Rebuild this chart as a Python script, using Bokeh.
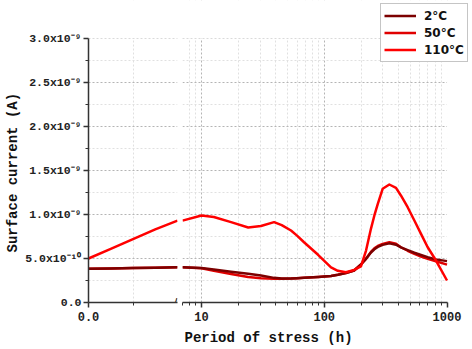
from bokeh.plotting import figure
from bokeh.layouts import row
from bokeh.models import (Range1d, FixedTicker, CustomJSTickFormatter, PrintfTickFormatter,
                          Legend, LegendItem, Label, Title, BoxAnnotation)
from bokeh.embed import file_html
from bokeh.resources import INLINE

# Surface current (in units of 1e-9 A) versus period of stress (hours)
SERIES = ["2°C", "50°C", "110°C"]
COLORS = ["#7c0000", "#e00000", "#ff0000"]

# Early stage, linear time axis
HOURS_EARLY = [0, 1.5, 3, 4.5, 6]
EARLY_2C = [0.383, 0.387, 0.392, 0.396, 0.400]
EARLY_50C = [0.383, 0.387, 0.392, 0.396, 0.400]
EARLY_110C = [0.50, 0.61, 0.72, 0.83, 0.93]

# Later stage, logarithmic time axis
HOURS_LATE = [7, 10, 12.6, 17.4, 24, 30.5, 39, 45, 53.6, 60, 68.4, 89, 113.5, 129, 150, 175,
              199, 219, 240, 256, 273, 299, 339, 384, 421, 478, 542, 614, 696, 813, 1000]
LATE_2C = [0.400, 0.393, 0.375, 0.350, 0.326, 0.307, 0.280, 0.274, 0.272, 0.275, 0.280,
           0.290, 0.302, 0.315, 0.335, 0.364, 0.432, 0.496, 0.568, 0.605, 0.632, 0.655,
           0.672, 0.657, 0.627, 0.595, 0.565, 0.540, 0.515, 0.490, 0.470]
LATE_50C = [0.400, 0.390, 0.360, 0.325, 0.290, 0.276, 0.270, 0.270, 0.272, 0.275, 0.280,
            0.290, 0.302, 0.315, 0.335, 0.364, 0.432, 0.498, 0.575, 0.615, 0.642, 0.665,
            0.685, 0.667, 0.628, 0.588, 0.552, 0.522, 0.497, 0.468, 0.430]
LATE_110C = [0.930, 0.989, 0.972, 0.913, 0.852, 0.870, 0.913, 0.880, 0.818, 0.760, 0.685,
             0.542, 0.400, 0.360, 0.344, 0.370, 0.410, 0.590, 0.837, 0.989, 1.121, 1.292,
             1.341, 1.303, 1.216, 1.083, 0.932, 0.780, 0.628, 0.477, 0.250]

UNIT = 1e-9
Y_MAX = 3.0e-9
Y_MAJOR = [0.0, 0.5e-9, 1.0e-9, 1.5e-9, 2.0e-9, 2.5e-9, 3.0e-9]
Y_MINOR = [0.25e-9, 0.75e-9, 1.25e-9, 1.75e-9, 2.25e-9, 2.75e-9]
X_EARLY_MAJOR = [0]
X_EARLY_MINOR = [3]
X_EARLY_MAX = 6
X_LATE_MIN = 7
X_LATE_MAX = 1000
X_LATE_MAJOR = [10, 100, 1000]
X_LATE_MINOR = [7, 8, 9, 20, 30, 40, 50, 60, 70, 80, 90,
                200, 300, 400, 500, 600, 700, 800, 900]

MONO = "Liberation Mono"
AXIS_COLOR = "#333333"

# Layout geometry (pixels). The frames run to the top and right edges of the page so
# that the legend, which overhangs the data area, is not clipped; the axes are bounded
# to the data area and a white mask hides grid lines outside it.
H = 349
BOTTOM = 47                 # space for tick labels and axis title
DATA_H = 264                # height of the 0..3e-9 span
FRAME_H = H - BOTTOM        # 302
RIGHT_W = 290
DECADE_PX = 122.75
LATE_PX = DECADE_PX * 2.1549  # width covered by 7..1000 h

y_top = Y_MAX * FRAME_H / DATA_H
x_late_end = X_LATE_MAX * 10 ** ((RIGHT_W - LATE_PX) / DECADE_PX)

early = [EARLY_2C, EARLY_50C, EARLY_110C]
late = [LATE_2C, LATE_50C, LATE_110C]

y_range = Range1d(0, y_top)

sci_formatter = CustomJSTickFormatter(code=r"""
if (Math.abs(tick) < 1e-15) { return "0.0"; }
const e = Math.floor(Math.log10(Math.abs(tick)) + 1e-6);
const m = tick / Math.pow(10, e);
const sup = {"-": "\u207b", "0": "\u2070", "1": "\u00b9", "2": "\u00b2", "3": "\u00b3",
             "4": "\u2074", "5": "\u2075", "6": "\u2076", "7": "\u2077", "8": "\u2078", "9": "\u2079"};
return m.toFixed(1) + "x10" + String(e).split("").map(c => sup[c]).join("");
""")


def style_axis(ax):
    ax.axis_line_color = AXIS_COLOR
    ax.axis_line_width = 1.5
    ax.major_tick_line_color = AXIS_COLOR
    ax.major_tick_line_width = 1.5
    ax.minor_tick_line_color = AXIS_COLOR
    ax.minor_tick_line_width = 1
    ax.major_tick_in = 0
    ax.major_tick_out = 5
    ax.minor_tick_in = 0
    ax.minor_tick_out = 3
    ax.major_label_text_font = MONO
    ax.major_label_text_font_style = "bold"
    ax.major_label_text_color = "#222222"


def style_grid(g, ticker):
    g.ticker = ticker
    g.grid_line_color = "#b4b4b4"
    g.grid_line_dash = "2 2"
    g.grid_line_width = 1
    g.minor_grid_line_color = "#e0e0e0"
    g.minor_grid_line_dash = "2 2"
    g.minor_grid_line_width = 1


def axis_title(text, offset, standoff):
    return Title(text=text, align="left", offset=offset, standoff=standoff,
                 text_font=MONO, text_font_style="bold", text_font_size="14px",
                 text_color="#111111")


def mask(**edges):
    return BoxAnnotation(fill_color="white", fill_alpha=1, line_color=None,
                         level="underlay", editable=False, **edges)


y_ticker = FixedTicker(ticks=Y_MAJOR, minor_ticks=Y_MINOR)

# Left panel: linear hours from 0
left = figure(width=182, height=H, x_range=Range1d(0, X_EARLY_MAX), y_range=y_range,
              toolbar_location=None, output_backend="svg",
              min_border_left=88, min_border_right=5, min_border_top=0, min_border_bottom=BOTTOM)
left.outline_line_color = None
left.yaxis.ticker = y_ticker
left.yaxis.bounds = (0, Y_MAX)
left.yaxis.formatter = sci_formatter
left.yaxis.major_label_text_font_size = "11.5px"
left.yaxis.major_label_standoff = 2
left.xaxis.ticker = FixedTicker(ticks=X_EARLY_MAJOR, minor_ticks=X_EARLY_MINOR)
left.xaxis.formatter = PrintfTickFormatter(format="%.1f")
left.xaxis.major_label_text_font_size = "12px"
left.xaxis.major_label_standoff = 4
style_axis(left.xaxis[0])
style_axis(left.yaxis[0])
style_grid(left.xgrid[0], left.xaxis[0].ticker)
style_grid(left.ygrid[0], y_ticker)
left.add_layout(mask(bottom=Y_MAX))
left.add_layout(axis_title("Surface current (A)", offset=50, standoff=4), "left")

# Right panel: logarithmic hours
right = figure(width=RIGHT_W, height=H, x_axis_type="log", x_range=Range1d(X_LATE_MIN, x_late_end),
               y_range=y_range, y_axis_location=None,
               toolbar_location=None, output_backend="svg",
               min_border_left=0, min_border_right=0, min_border_top=0, min_border_bottom=BOTTOM)
right.outline_line_color = None
right.xaxis.ticker = FixedTicker(ticks=X_LATE_MAJOR, minor_ticks=X_LATE_MINOR)
right.xaxis.bounds = (X_LATE_MIN, X_LATE_MAX)
right.xaxis.formatter = PrintfTickFormatter(format="%d")
right.xaxis.major_label_text_font_size = "12px"
right.xaxis.major_label_standoff = 4
style_axis(right.xaxis[0])
style_grid(right.xgrid[0], right.xaxis[0].ticker)
style_grid(right.ygrid[0], y_ticker)
right.add_layout(mask(bottom=Y_MAX))
right.add_layout(mask(left=X_LATE_MAX))
right.add_layout(axis_title("Period of stress (h)", offset=2, standoff=8), "below")

renderers = {}
for i in [1, 0, 2]:
    left.line(HOURS_EARLY, [v * UNIT for v in early[i]],
              line_color=COLORS[i], line_width=2.5, line_join="round")
    renderers[i] = right.line(HOURS_LATE, [v * UNIT for v in late[i]],
                              line_color=COLORS[i], line_width=2.5, line_join="round")

# Axis break marks
left.add_layout(Label(x=X_EARLY_MAX, y=0, text="//", x_offset=0, text_align="center",
                      text_baseline="middle", text_font="DejaVu Sans",
                      text_font_style="bold", text_font_size="11px", text_color=AXIS_COLOR))

legend = Legend(items=[LegendItem(label=SERIES[i], renderers=[renderers[i]]) for i in range(3)],
                location=(198, 240))
legend.border_line_color = "#8c8c8c"
legend.border_line_width = 1
legend.background_fill_alpha = 1
legend.label_text_font = "DejaVu Sans"
legend.label_text_font_size = "12px"
legend.label_text_font_style = "bold"
legend.label_text_color = "#111111"
legend.glyph_width = 32
legend.glyph_height = 17
legend.label_height = 17
legend.spacing = 0
legend.padding = 3
legend.margin = 0
legend.label_standoff = 8
right.add_layout(legend)

layout = row(left, right)
open("out.html", "w").write(file_html(layout, INLINE))
